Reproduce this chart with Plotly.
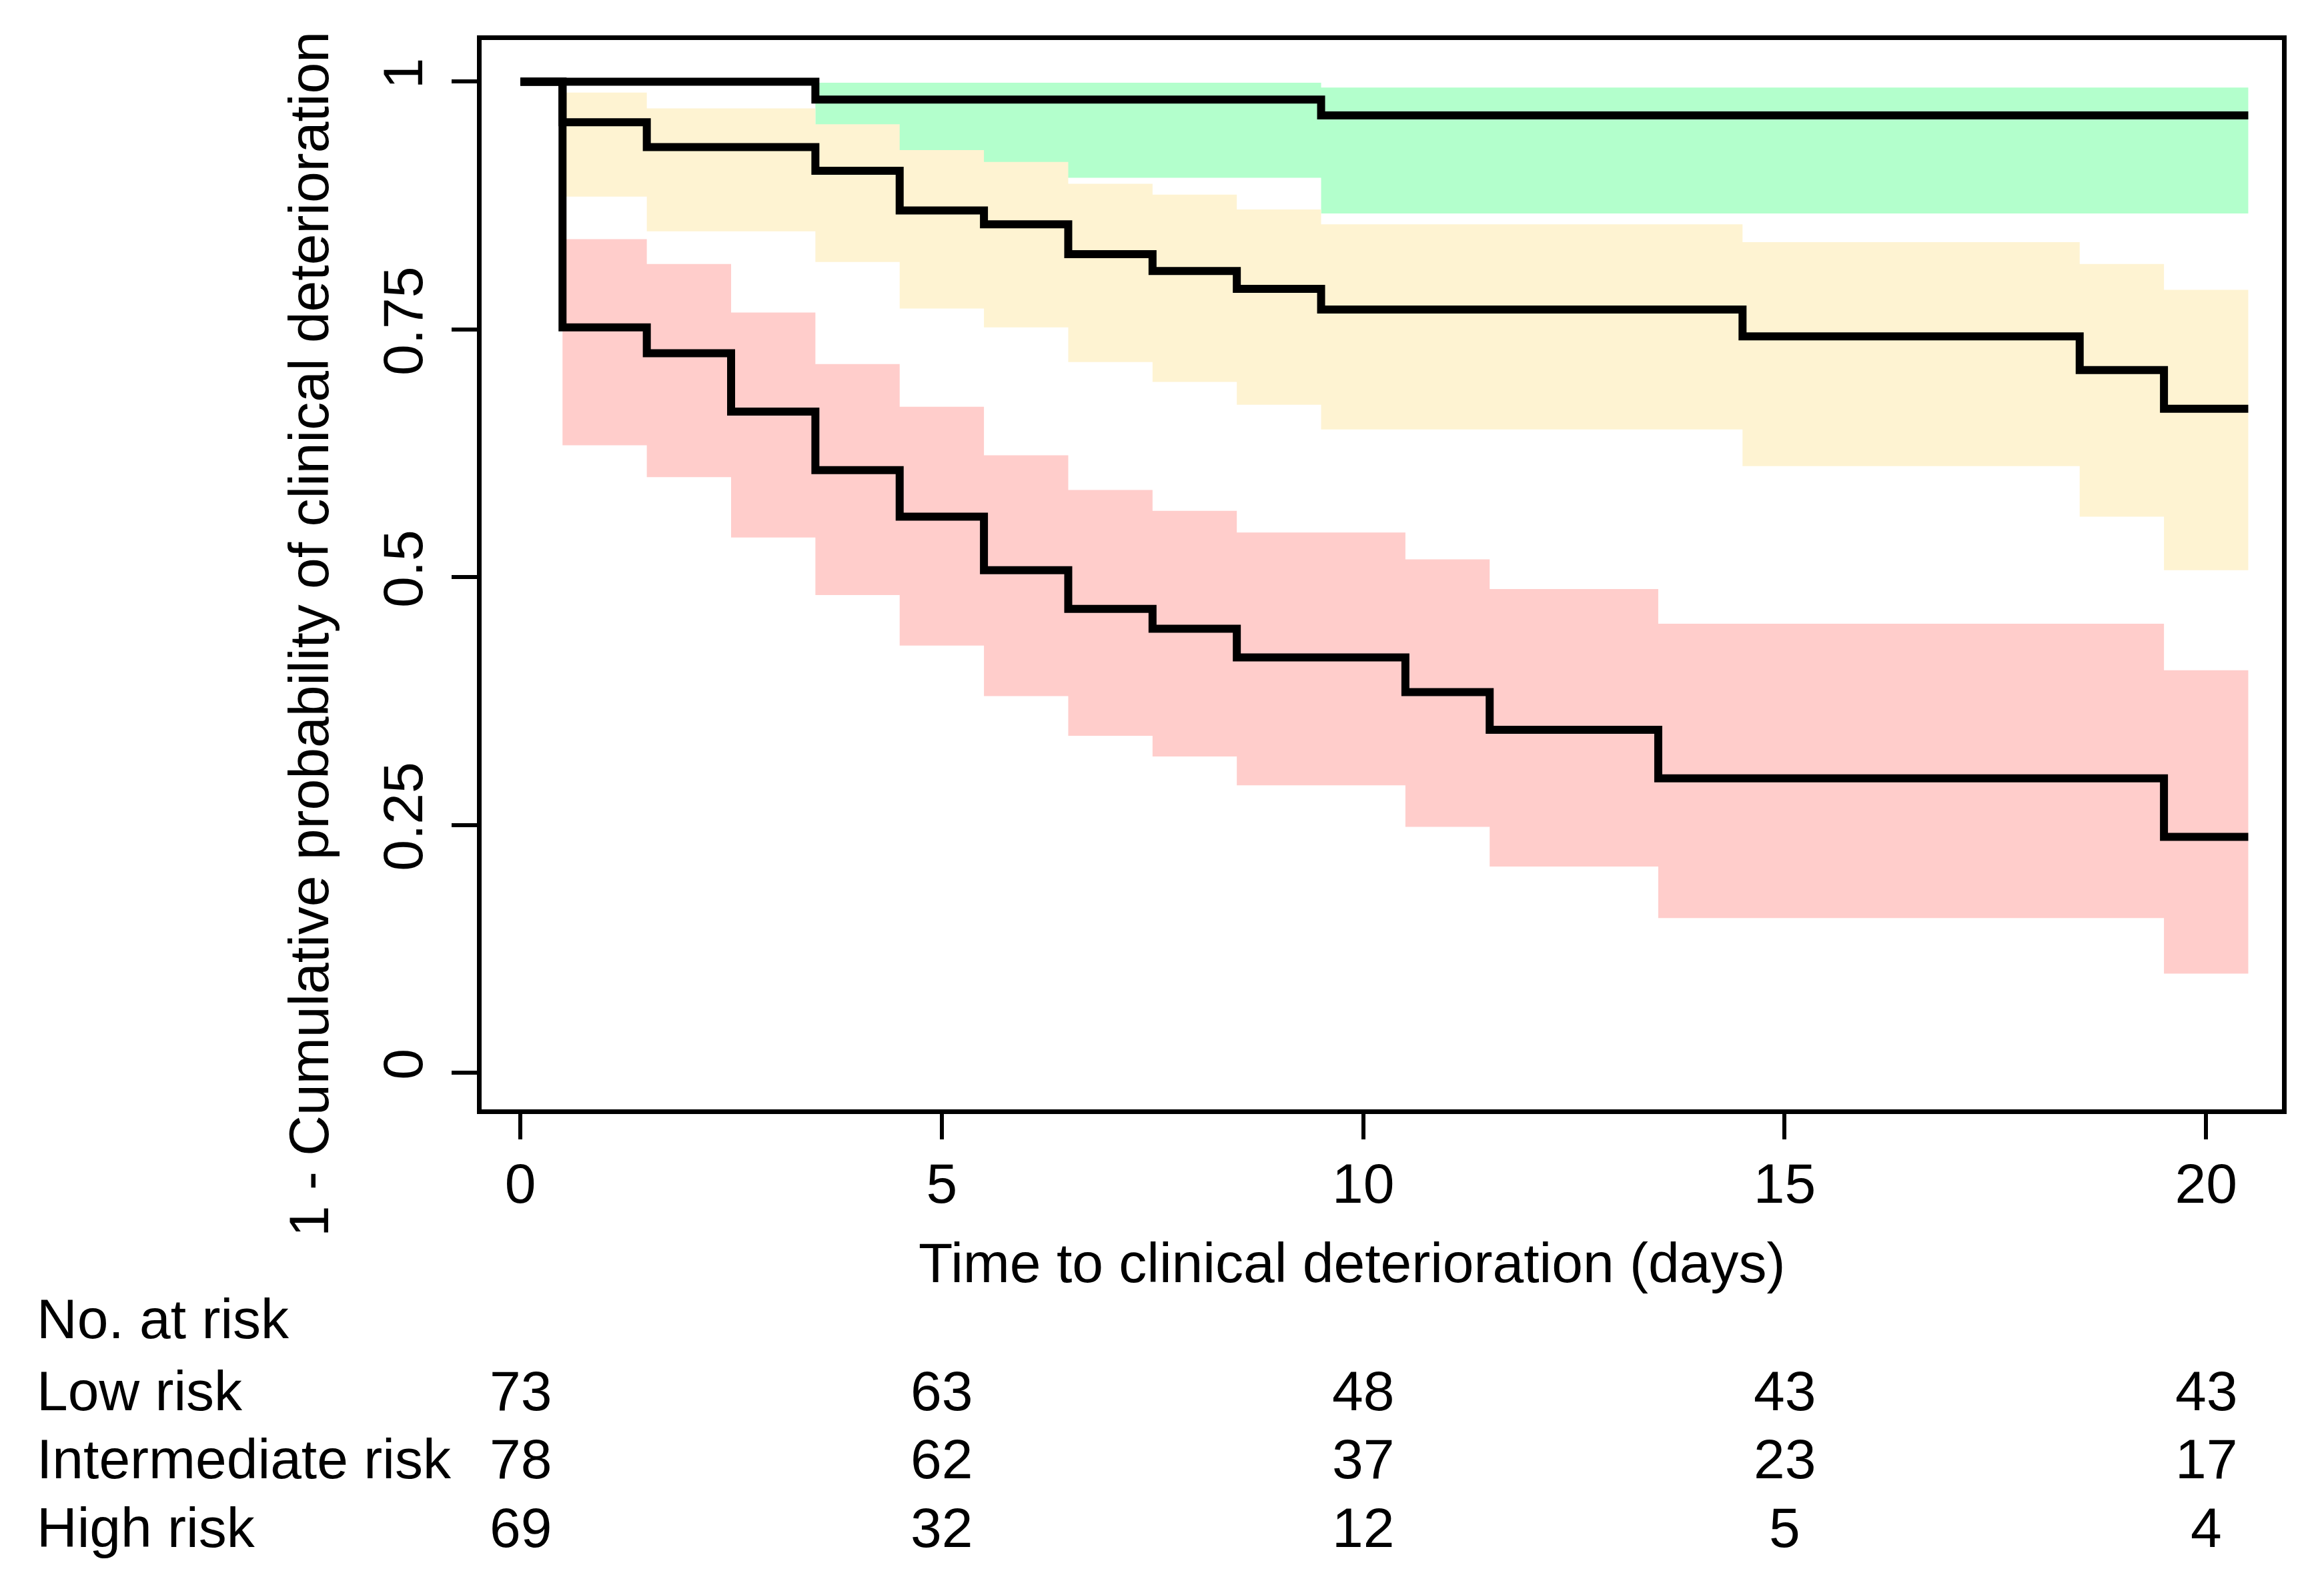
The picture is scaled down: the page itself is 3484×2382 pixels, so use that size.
import plotly.graph_objects as go

# ---------------- data ----------------
# Low risk
t_low = [0, 3.5, 9.5, 20.5]
s_low = [1.0, 0.982, 0.966, 0.966]
ci_t_low = [3.5, 9.5, 20.5]
ci_lo_low = [0.903, 0.867, 0.867]
ci_hi_low = [0.999, 0.994, 0.994]

# Intermediate risk
t_int = [0, 0.5, 1.5, 3.5, 4.5, 5.5, 6.5, 7.5, 8.5, 9.5, 14.5, 18.5, 19.5, 20.5]
s_int = [1.0, 0.959, 0.934, 0.910, 0.870, 0.856, 0.826, 0.809, 0.791, 0.770, 0.743, 0.709, 0.670, 0.670]
ci_t_int = [0.5, 1.5, 3.5, 4.5, 5.5, 6.5, 7.5, 8.5, 9.5, 14.5, 18.5, 19.5, 20.5]
ci_hi_int = [0.989, 0.973, 0.957, 0.931, 0.919, 0.897, 0.886, 0.871, 0.856, 0.838, 0.816, 0.790, 0.790]
ci_lo_int = [0.884, 0.849, 0.818, 0.771, 0.752, 0.717, 0.697, 0.674, 0.649, 0.612, 0.561, 0.507, 0.507]

# High risk
t_high = [0, 0.5, 1.5, 2.5, 3.5, 4.5, 5.5, 6.5, 7.5, 8.5, 10.5, 11.5, 13.5, 19.5, 20.5]
s_high = [1.0, 0.752, 0.726, 0.667, 0.608, 0.561, 0.507, 0.468, 0.448, 0.419, 0.384, 0.346, 0.297, 0.238, 0.238]
ci_t_high = [0.5, 1.5, 2.5, 3.5, 4.5, 5.5, 6.5, 7.5, 8.5, 10.5, 11.5, 13.5, 19.5, 20.5]
ci_hi_high = [0.841, 0.816, 0.767, 0.715, 0.672, 0.623, 0.588, 0.567, 0.545, 0.518, 0.488, 0.453, 0.406, 0.406]
ci_lo_high = [0.633, 0.601, 0.540, 0.482, 0.431, 0.380, 0.340, 0.319, 0.290, 0.248, 0.208, 0.156, 0.100, 0.100]

# Risk table
risk_times = [0, 5, 10, 15, 20]
risk_groups = ["Low risk", "Intermediate risk", "High risk"]
risk_low = [73, 63, 48, 43, 43]
risk_int = [78, 62, 37, 23, 17]
risk_high = [69, 32, 12, 5, 4]

x_ticks = [0, 5, 10, 15, 20]
y_ticks = [0, 0.25, 0.5, 0.75, 1]
y_ticktext = ["0", "0.25", "0.5", "0.75", "1"]

x_title = "Time to clinical deterioration (days)"
y_title = "1 - Cumulative probability of clinical deterioration"

# ---------------- styling ----------------
FONT = "Liberation Sans, Arial, Helvetica, sans-serif"
FS = 84
GREEN = "#b3ffcc"
YELLOW = "#fef3d2"
RED = "#ffcdcb"

# page body has an 8px default margin; target positions are in window pixels
OFF = 8
W, H = 3484 - 2 * OFF, 2382 - 2 * OFF
L, R, T, B = 722 - OFF, 63 - OFF, 60 - OFF, 719 - OFF
plot_h = H - T - B
plot_w = W - L - R

fig = go.Figure()


def band(t, lo, hi, color):
    fig.add_trace(go.Scatter(x=t, y=lo, mode="lines", line=dict(width=0, shape="hv", color=color),
                             showlegend=False, hoverinfo="skip"))
    fig.add_trace(go.Scatter(x=t, y=hi, mode="lines", line=dict(width=0, shape="hv", color=color),
                             fill="tonexty", fillcolor=color, showlegend=False, hoverinfo="skip"))


band(ci_t_low, ci_lo_low, ci_hi_low, GREEN)
band(ci_t_int, ci_lo_int, ci_hi_int, YELLOW)
band(ci_t_high, ci_lo_high, ci_hi_high, RED)

for t, s in [(t_low, s_low), (t_int, s_int), (t_high, s_high)]:
    fig.add_trace(go.Scatter(x=t, y=s, mode="lines",
                             line=dict(color="black", width=12, shape="hv"),
                             showlegend=False))


def py(pix):
    """window pixel y -> paper coordinate"""
    return (2382 - 719 - pix) / plot_h


def px(pix):
    """window pixel x -> paper coordinate"""
    return (pix - 722) / plot_w


annotations = []
# axis titles
annotations.append(dict(text=x_title, xref="paper", yref="paper", x=px(2026), y=py(1893),
                        xanchor="center", yanchor="middle", showarrow=False,
                        font=dict(family=FONT, size=FS, color="black")))
annotations.append(dict(text=y_title, xref="paper", yref="paper", x=px(463), y=py(951),
                        xanchor="center", yanchor="middle", showarrow=False, textangle=-90,
                        font=dict(family=FONT, size=FS, color="black")))
# risk table
label_x = px(53)
annotations.append(dict(text="No. at risk", xref="paper", yref="paper", x=label_x, y=py(1977),
                        xanchor="left", yanchor="middle", showarrow=False,
                        font=dict(family=FONT, size=FS, color="black")))
row_y = [2085, 2187, 2290]
for name, vals, ry in zip(risk_groups, [risk_low, risk_int, risk_high], row_y):
    annotations.append(dict(text=name, xref="paper", yref="paper", x=label_x, y=py(ry),
                            xanchor="left", yanchor="middle", showarrow=False,
                            font=dict(family=FONT, size=FS, color="black")))
    for tt, v in zip(risk_times, vals):
        annotations.append(dict(text=str(v), xref="x", yref="paper", x=tt, y=py(ry),
                                xanchor="center", yanchor="middle", showarrow=False,
                                font=dict(family=FONT, size=FS, color="black")))

fig.update_layout(
    width=W, height=H,
    margin=dict(l=L, r=R, t=T, b=B, pad=0),
    paper_bgcolor="white", plot_bgcolor="white",
    font=dict(family=FONT, size=FS, color="black"),
    showlegend=False,
    annotations=annotations,
)
fig.update_xaxes(range=[-0.46, 20.9], tickvals=x_ticks, ticks="outside", ticklen=38, tickwidth=6,
                 tickcolor="black", showline=True, linecolor="black", linewidth=7, mirror=True,
                 showgrid=False, zeroline=False, tickfont=dict(family=FONT, size=FS, color="black"),
                 ticklabelstandoff=-6)
fig.update_yaxes(range=[-0.037, 1.042], tickvals=y_ticks, ticktext=y_ticktext, tickangle=-90,
                 ticks="outside", ticklen=38, tickwidth=6, tickcolor="black", showline=True,
                 linecolor="black", linewidth=7, mirror=True, showgrid=False, zeroline=False,
                 tickfont=dict(family=FONT, size=FS, color="black"), ticklabelstandoff=10)

fig.write_html("out.html")
